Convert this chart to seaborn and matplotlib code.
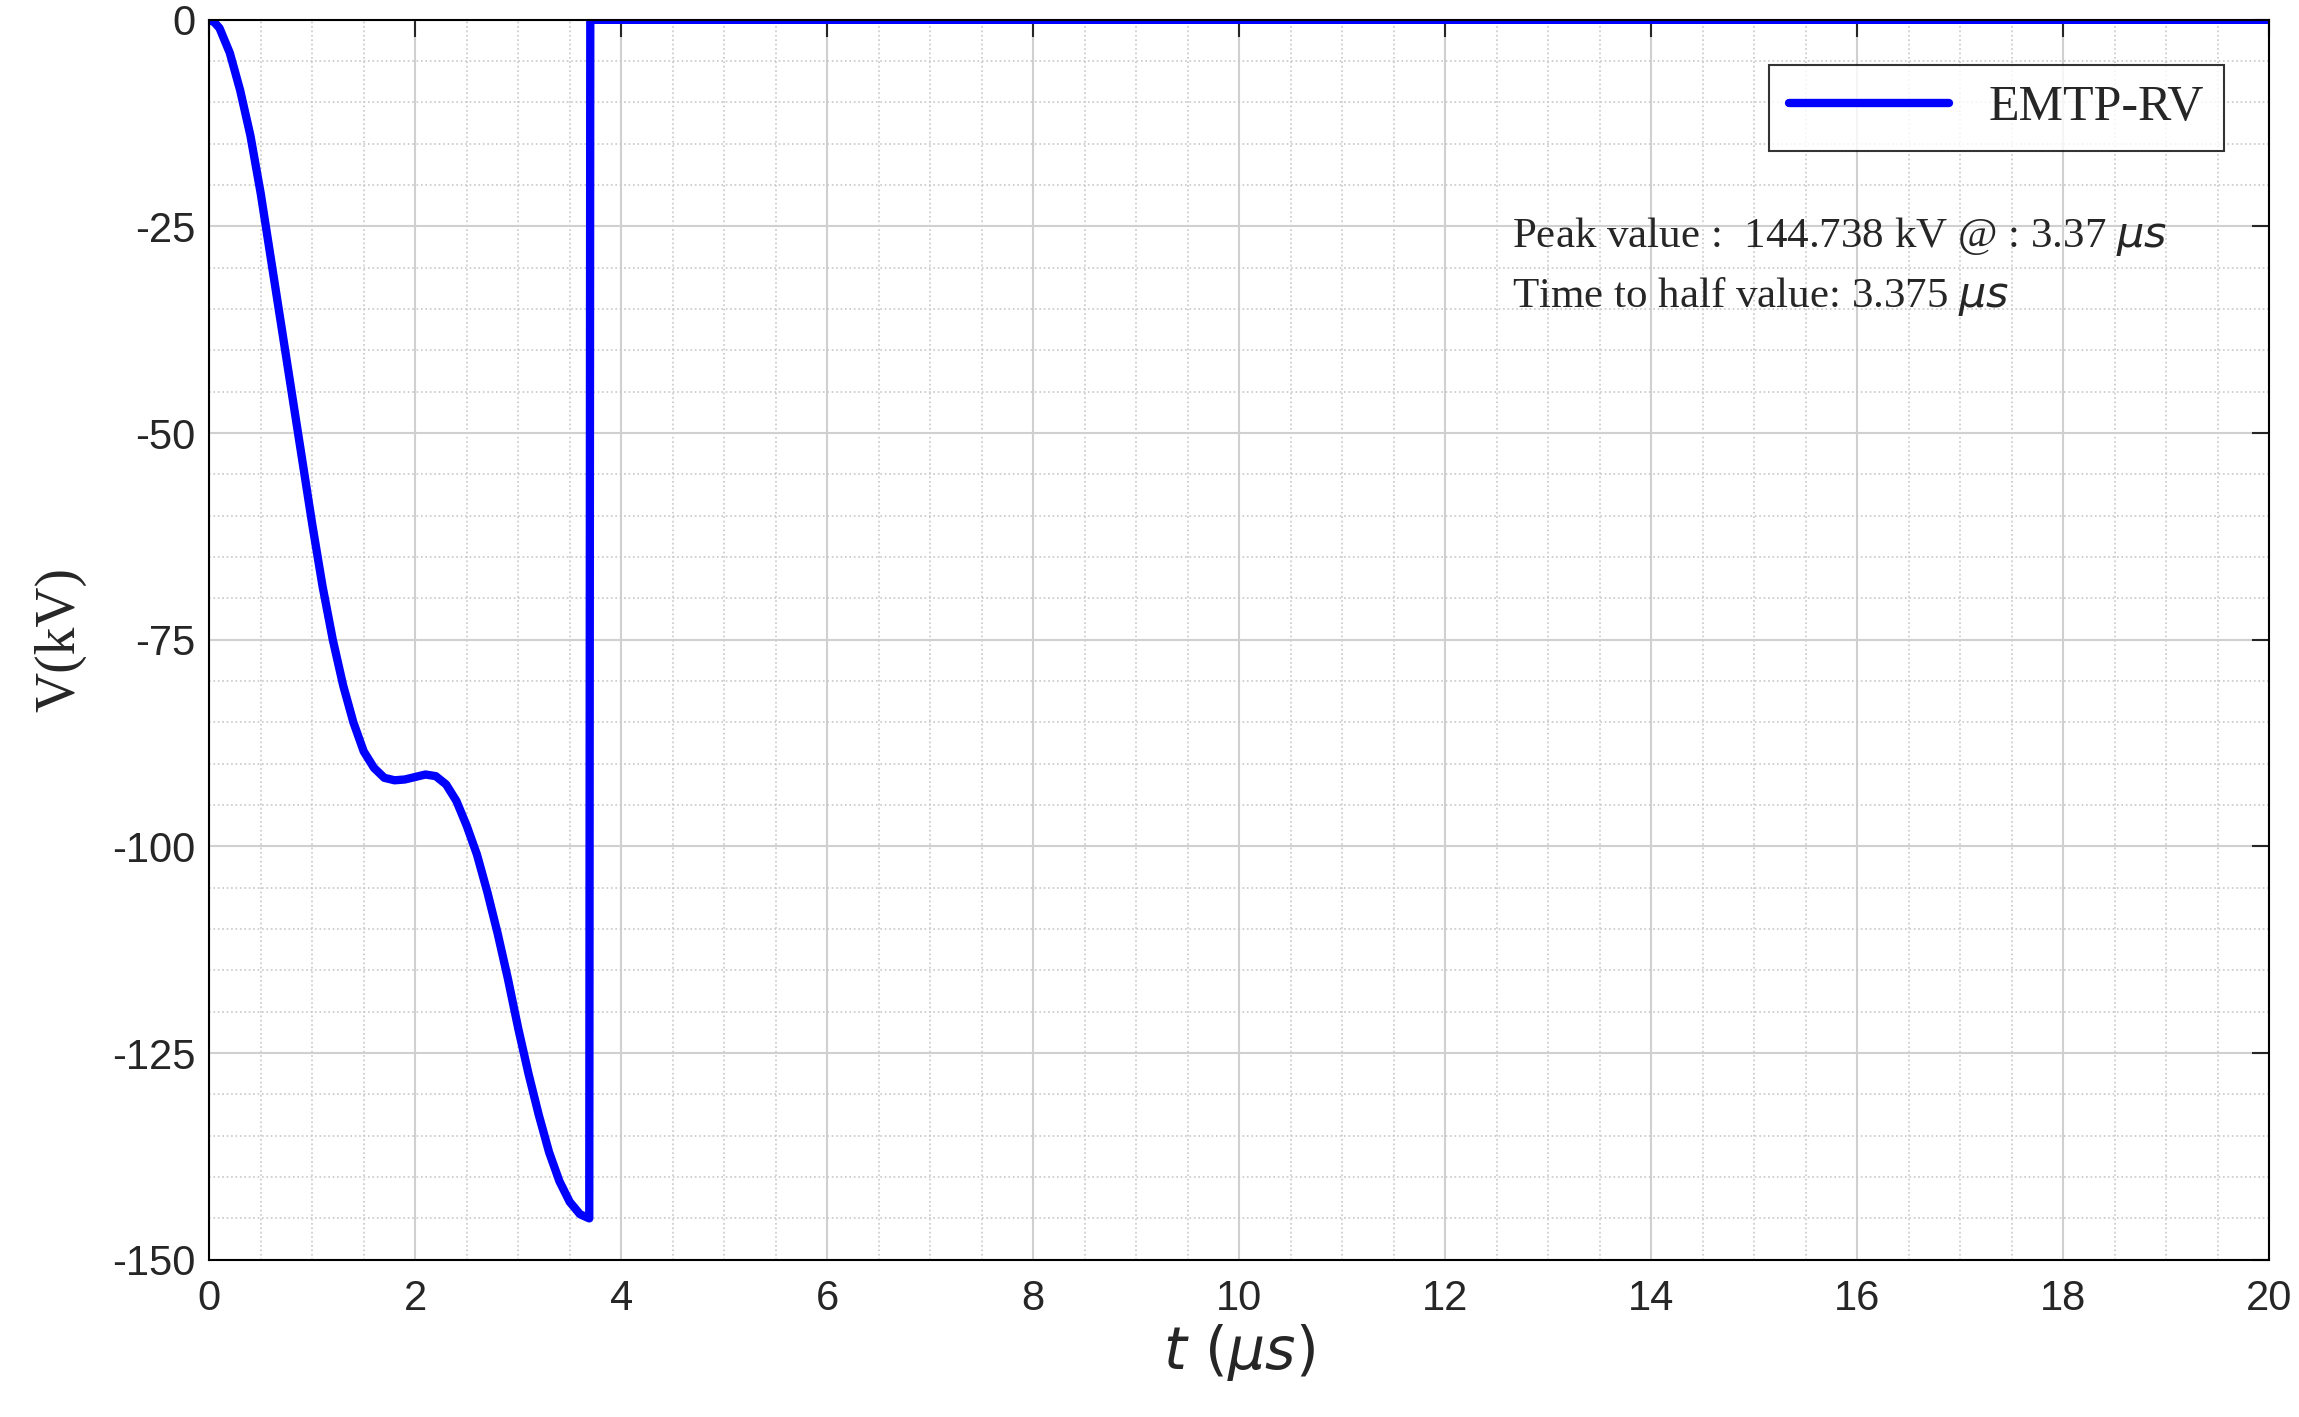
import matplotlib
matplotlib.use("Agg")
import matplotlib.pyplot as plt
import seaborn as sns
import pandas as pd
from matplotlib.ticker import MultipleLocator

t_us = [0, 0.05, 0.1, 0.2, 0.3, 0.4, 0.5, 0.6, 0.7, 0.8, 0.9, 1.0, 1.1, 1.2, 1.3, 1.4, 1.5, 1.6, 1.7, 1.8, 1.9, 2.0, 2.1, 2.2, 2.3, 2.4, 2.5, 2.6, 2.7, 2.8, 2.9, 3.0, 3.1, 3.2, 3.3, 3.4, 3.5, 3.6, 3.69, 3.7, 20]
v_kv = [0, -0.3, -1, -4, -8.5, -14, -21, -29, -37, -45, -53, -61, -68.5, -75, -80.5, -85, -88.5, -90.5, -91.7, -92, -91.9, -91.6, -91.3, -91.5, -92.5, -94.5, -97.5, -101, -105.5, -110.5, -116, -122, -127.5, -132.5, -137, -140.5, -143, -144.5, -145, 0, 0]
df = pd.DataFrame({"t": t_us, "v": v_kv})

sns.set_style("white")
plt.rcParams["axes.unicode_minus"] = False
fig = plt.figure(figsize=(22.99, 14.17), dpi=100)
ax = fig.add_axes([0.091, 0.111, 0.896, 0.875])
sns.lineplot(data=df, x="t", y="v", ax=ax, color="#0000ff", lw=6, sort=False,
             estimator=None, label="EMTP-RV")
ax.set_xlim(0, 20); ax.set_ylim(-150, 0)
ax.xaxis.set_major_locator(MultipleLocator(2)); ax.xaxis.set_minor_locator(MultipleLocator(0.5))
ax.yaxis.set_major_locator(MultipleLocator(25)); ax.yaxis.set_minor_locator(MultipleLocator(5))
ax.grid(which="major", color="#d0d0d0", lw=1.5)
ax.grid(which="minor", color="#c8c8c8", lw=1.2, ls=":")
ax.tick_params(which="both", direction="in", top=True, right=True, labelsize=30, length=12, width=1.5)
ax.tick_params(axis="x", pad=14)
ax.tick_params(axis="y", pad=10)
ax.tick_params(which="minor", length=0)
for lab in ax.get_xticklabels() + ax.get_yticklabels():
    lab.set_fontfamily("Liberation Sans")
for s in ax.spines.values():
    s.set_linewidth(1.5); s.set_color("black")
ax.set_xlabel(r"$t\ (\mu s)$", fontsize=42, family="DejaVu Serif", labelpad=2)
ax.set_ylabel("V(kV)", fontsize=40, family="Liberation Serif", labelpad=18)
leg = ax.legend(loc="upper right", prop={"family": "Liberation Serif", "size": 36},
                fancybox=False, edgecolor="black", handlelength=3.2, borderaxespad=0.9)
leg.get_frame().set_linewidth(1.5)
ax.text(12.65, -27.5, r"Peak value :  144.738 kV @ : 3.37 $\mu s$", fontsize=31, family="Liberation Serif")
ax.text(12.65, -34.7, r"Time to half value: 3.375 $\mu s$", fontsize=31, family="Liberation Serif")
fig.savefig("out.png", dpi=100)
